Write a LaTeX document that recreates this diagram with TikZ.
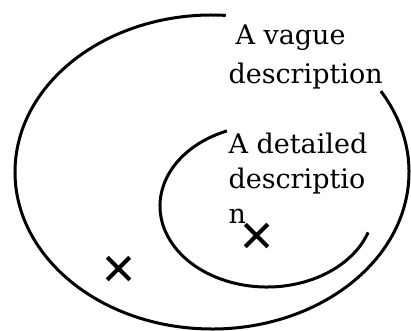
\documentclass[tikz,border=0pt]{standalone}
\usepackage{fontspec}
\setmainfont{DejaVu Serif}
\usetikzlibrary{shapes.misc}
\begin{document}
\begin{tikzpicture}[x=1pt, y=1pt, line width=3pt,
    settext/.style={anchor=north west, inner sep=0pt, align=left},
    crossmark/.style={cross out, draw, line width=4pt, minimum size=18.5pt, inner sep=0pt}]
  \useasboundingbox (0,0) rectangle (411,330);

  % --- outer set: the vague description ---
  \draw ([shift={(86:197pt and 157pt)}]212,158)
    arc[start angle=86, end angle=391, x radius=197pt, y radius=157pt];
  \node[settext, font=\fontsize{27}{39}\selectfont] (vague) at (227,307)
    {\hspace{7pt}A vague\\description};

  % --- inner set: the detailed description ---
  \draw ([shift={(112:107pt and 81pt)}]267,124)
    arc[start angle=112, end angle=341, x radius=107pt, y radius=81pt];
  \node[settext, font=\fontsize{27}{35}\selectfont] (detailed) at (227,199)
    {A detailed\\descriptio\\n};

  % objects
  \node[crossmark] (crossA) at (118.5,61.5) {};
  \node[crossmark] (crossB) at (256.5,94.5) {};
\end{tikzpicture}
\end{document}
